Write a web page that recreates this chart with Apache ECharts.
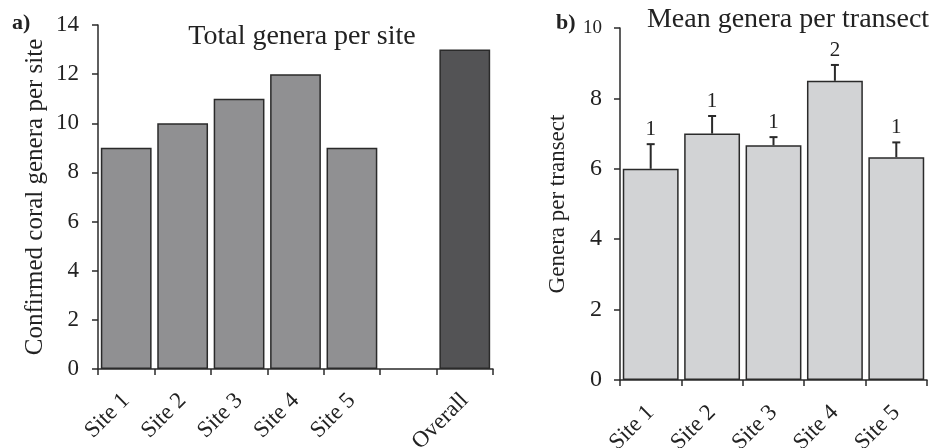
<!DOCTYPE html>
<html>
<head>
<meta charset="utf-8">
<script src="https://cdn.jsdelivr.net/npm/echarts@6/dist/echarts.min.js"></script>
<style>
  html, body { margin: 0; padding: 0; background: #fff; }
  #main { width: 933px; height: 448px; }
</style>
</head>
<body>
<div id="main"></div>
<script>
// panel a
const sitesA = ['Site 1', 'Site 2', 'Site 3', 'Site 4', 'Site 5', '', 'Overall'];
const totalGenera = [9, 10, 11, 12, 9, null, 13];
// panel b
const sitesB = ['Site 1', 'Site 2', 'Site 3', 'Site 4', 'Site 5'];
const meanGenera = [6.0, 7.0, 6.67, 8.5, 6.33];
const errTop = [6.7, 7.5, 6.9, 8.95, 6.75];
const groupLabels = ['1', '1', '1', '2', '1'];

const FONT = "'Liberation Serif', 'Times New Roman', serif";
const INK = '#222';

const chart = echarts.init(document.getElementById('main'));

const axisLine = { show: true, lineStyle: { color: '#2a2a2a', width: 1.5 } };
const axisTick = { show: true, length: 6, lineStyle: { color: '#2a2a2a', width: 1.5 } };

const errData = meanGenera.map((v, i) => [i, v, errTop[i], groupLabels[i]]);

const option = {
  backgroundColor: '#fff',
  animation: false,
  textStyle: { fontFamily: FONT, color: INK },
  grid: [
    { left: 98, top: 25, width: 395, height: 344, containLabel: false, outerBoundsMode: 'none' },
    { left: 620, top: 28, width: 307, height: 352, containLabel: false, outerBoundsMode: 'none' }
  ],
  xAxis: [
    {
      type: 'category', gridIndex: 0, data: sitesA,
      axisLine: axisLine, axisTick: axisTick,
      axisLabel: { rotate: 45, margin: 28, fontSize: 23, fontFamily: FONT, color: INK, interval: 0 }
    },
    {
      type: 'category', gridIndex: 1, data: sitesB,
      axisLine: axisLine, axisTick: axisTick,
      axisLabel: { rotate: 45, margin: 29, fontSize: 23, fontFamily: FONT, color: INK, interval: 0 }
    }
  ],
  yAxis: [
    {
      type: 'value', gridIndex: 0, min: 0, max: 14, interval: 2,
      splitLine: { show: false },
      axisLine: axisLine, axisTick: axisTick,
      axisLabel: { fontSize: 23, margin: 19, fontFamily: FONT, color: INK },
      name: 'Confirmed coral genera per site', nameLocation: 'middle', nameGap: 50,
      nameTextStyle: { fontSize: 25, fontFamily: FONT, color: INK }
    },
    {
      type: 'value', gridIndex: 1, min: 0, max: 10, interval: 2,
      splitLine: { show: false },
      axisLine: axisLine, axisTick: axisTick,
      axisLabel: {
        fontSize: 24, margin: 18, fontFamily: FONT, color: INK,
        formatter: v => v === 10 ? '{s|10}' : String(v),
        rich: { s: { fontSize: 19, fontFamily: FONT, color: INK } }
      },
      name: 'Genera per transect', nameLocation: 'middle', nameGap: 51,
      nameTextStyle: { fontSize: 23, fontFamily: FONT, color: INK }
    }
  ],
  graphic: [
    { type: 'text', left: 12, top: 12, style: { text: 'a)', font: 'bold 22px ' + FONT, fill: INK } },
    { type: 'text', left: 556, top: 12, style: { text: 'b)', font: 'bold 22px ' + FONT, fill: INK } },
    { type: 'text', x: 302, y: 37, style: { text: 'Total genera per site', font: '28px ' + FONT, fill: INK, align: 'center', verticalAlign: 'middle' } },
    { type: 'text', x: 788, y: 20, style: { text: 'Mean genera per transect', font: '28px ' + FONT, fill: INK, align: 'center', verticalAlign: 'middle' } }
  ],
  series: [
    {
      type: 'bar', xAxisIndex: 0, yAxisIndex: 0, barCategoryGap: '10%',
      data: totalGenera.map((v, i) => ({
        value: v,
        itemStyle: { color: sitesA[i] === 'Overall' ? '#535355' : '#909092' }
      })),
      itemStyle: { borderColor: '#2a2a2a', borderWidth: 1.5 }
    },
    {
      type: 'bar', xAxisIndex: 1, yAxisIndex: 1, barCategoryGap: '9%',
      data: meanGenera,
      itemStyle: { color: '#d2d3d5', borderColor: '#2a2a2a', borderWidth: 1.5 }
    },
    {
      type: 'custom', xAxisIndex: 1, yAxisIndex: 1, z: 5,
      data: errData,
      renderItem: function (params, api) {
        const p0 = api.coord([api.value(0), api.value(1)]);
        const p1 = api.coord([api.value(0), api.value(2)]);
        const lbl = groupLabels[params.dataIndex];
        return {
          type: 'group',
          children: [
            { type: 'line', shape: { x1: p0[0], y1: p0[1], x2: p1[0], y2: p1[1] }, style: { stroke: '#2a2a2a', lineWidth: 2 } },
            { type: 'line', shape: { x1: p1[0] - 4, y1: p1[1], x2: p1[0] + 4, y2: p1[1] }, style: { stroke: '#2a2a2a', lineWidth: 2 } },
            { type: 'text', x: p1[0], y: p1[1] - 4, style: { text: lbl, font: '21px ' + FONT, fill: INK, align: 'center', verticalAlign: 'bottom' } }
          ]
        };
      }
    }
  ]
};

chart.setOption(option);
</script>
</body>
</html>
